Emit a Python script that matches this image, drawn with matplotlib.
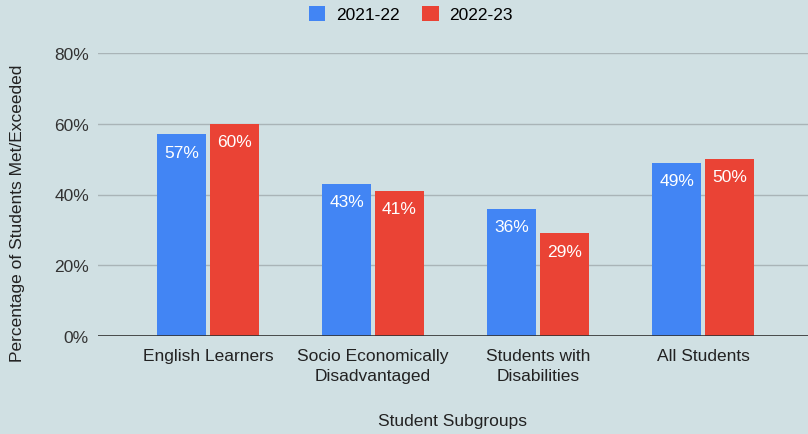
import matplotlib
matplotlib.use("Agg")
import matplotlib.pyplot as plt
from matplotlib.patches import Patch
import numpy as np

categories = ["English Learners", "Socio Economically\nDisadvantaged", "Students with\nDisabilities", "All Students"]
series_names = ["2021-22", "2022-23"]
values_2122 = [57, 43, 36, 49]
values_2223 = [60, 41, 29, 50]
yticks = [0, 20, 40, 60, 80]
ytick_labels = ["0%", "20%", "40%", "60%", "80%"]

plt.rcParams['font.family'] = ['Liberation Sans', 'DejaVu Sans']
bg = "#d0e0e3"
blue = "#4285f4"
red = "#ea4335"
fs = 12.5

fig = plt.figure(figsize=(8.08, 4.35), dpi=100, facecolor=bg)
ax = fig.add_axes([98/808, 1-337/435, 1-98/808, (337-54)/435])
ax.set_facecolor(bg)

x = np.arange(len(categories))
w = 0.30
off = 0.16
for vals, color, o in [(values_2122, blue, -off), (values_2223, red, off)]:
    bars = ax.bar(x + o, vals, width=w, color=color, zorder=3)
    for b, v in zip(bars, vals):
        ax.text(b.get_x() + b.get_width()/2, v - 5, f"{v}%", ha="center", va="center",
                color="white", fontsize=fs, zorder=4)

ax.set_xlim(-0.667, 3.636)
ax.set_ylim(0, 80)
ax.set_yticks(yticks)
ax.set_yticklabels(ytick_labels, fontsize=fs, color="#333333")
ax.set_xticks(x)
ax.set_xticklabels(categories, fontsize=fs, color="#222222", linespacing=1.45)
ax.tick_params(axis="y", length=0, pad=6.5)
ax.tick_params(axis="x", length=0, pad=8.5)
ax.yaxis.grid(True, color="#a9b4b7", linewidth=1, zorder=0)
ax.axhline(0, color="#333333", linewidth=1.2, zorder=5)
for s in ax.spines.values():
    s.set_visible(False)

fig.text(18/808, 1-213/435, "Percentage of Students Met/Exceeded", rotation=90,
         ha="center", va="center", fontsize=fs, color="#222222")
fig.text(0.5 + 49/808, 1-422/435, "Student Subgroups", ha="center", va="center", fontsize=fs, color="#222222")

handles = [Patch(facecolor=blue, edgecolor="none"), Patch(facecolor=red, edgecolor="none")]
fig.legend(handles, series_names, loc="center", bbox_to_anchor=(411/808, 1-15/435), ncol=2,
           frameon=False, fontsize=fs, handlelength=0.95, handleheight=0.95, columnspacing=1.3,
           handletextpad=0.62)

fig.savefig("out.png", dpi=100, facecolor=bg)
